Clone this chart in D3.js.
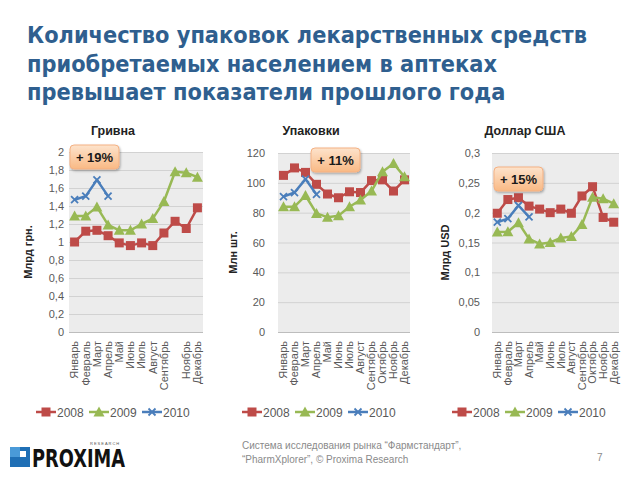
<!DOCTYPE html>
<html><head><meta charset="utf-8">
<script src="https://cdn.jsdelivr.net/npm/d3@7"></script>
<style>body{margin:0;background:#fff}svg{display:block}</style>
</head><body><svg id="c" width="640" height="480"></svg>
<script>
const titleLines = ["Количество упаковок лекарственных средств","приобретаемых населением в аптеках","превышает показатели прошлого года"];
const months = ["Январь","Февраль","Март","Апрель","Май","Июнь","Июль","Август","Сентябрь","Октябрь","Ноябрь","Декабрь"];
const seriesNames = ["2008","2009","2010"];
// Гривна (млрд грн.)
const uah2008 = [1.00,1.12,1.13,1.07,0.99,0.96,0.99,0.96,1.10,1.23,1.15,1.38];
const uah2009 = [1.29,1.29,1.39,1.19,1.13,1.13,1.20,1.26,1.45,1.78,1.77,1.72];
const uah2010 = [1.47,1.51,1.69,1.51];
const uahTicks = [0,0.2,0.4,0.6,0.8,1,1.2,1.4,1.6,1.8,2];
// Упаковки (млн шт.)
const pack2008 = [105,110,107,99,92.5,90,94,93.5,101.5,102,94.5,102];
const pack2009 = [84,84,91.5,79.5,77,78,84,88.5,94.5,107.5,113,104];
const pack2010 = [90.8,93.5,102.5,92.2];
const packTicks = [0,20,40,60,80,100,120];
// Доллар США (млрд USD)
const usd2008 = [0.199,0.222,0.225,0.211,0.206,0.200,0.206,0.199,0.228,0.2435,0.192,0.184];
const usd2009 = [0.1675,0.168,0.183,0.156,0.1475,0.150,0.1575,0.160,0.180,0.226,0.2235,0.215];
const usd2010 = [0.184,0.190,0.212,0.193];
const usdTicks = [0,0.05,0.1,0.15,0.2,0.25,0.3];

const colors = ["#be4b48","#98b954","#4a7ebb"];
const svg = d3.select("#c");
const defs = svg.append("defs");
const g1 = defs.append("linearGradient").attr("id","callout").attr("x1",0).attr("y1",0).attr("x2",0).attr("y2",1);
g1.append("stop").attr("offset","0%").attr("stop-color","#fde3cc");
g1.append("stop").attr("offset","100%").attr("stop-color","#f9b984");
const sh = defs.append("filter").attr("id","sh").attr("x","-20%").attr("y","-20%").attr("width","150%").attr("height","160%");
sh.append("feDropShadow").attr("dx",1).attr("dy",1.5).attr("stdDeviation",1.2).attr("flood-color","#000").attr("flood-opacity",0.3);

// Title
const tfont = "'DejaVu Sans Condensed','DejaVu Sans',sans-serif";
const tg = svg.append("g");
titleLines.forEach((t,i)=>{
  tg.append("text").attr("x",27).attr("y",43+i*28.5).text(t)
    .attr("font-family",tfont).attr("font-weight","bold").attr("font-size",22.5)
    .attr("fill","#2f5f8f");
});
{
  const nodes = tg.selectAll("text").nodes();
  const k = 560 / nodes[0].getComputedTextLength();
  nodes.forEach(n=>{
    const w = n.getComputedTextLength();
    d3.select(n).attr("textLength",w*k).attr("lengthAdjust","spacingAndGlyphs");
  });
}

const afont = "'Liberation Sans','Open Sans',sans-serif";
const fmt = d => String(d).replace(".",",");

function drawChart(cfg){
  const {left,right,top,bottom,ticks,data,title,titleX,ytitle,ytitleX,skip,callout,legendX,pad} = cfg;
  const g = svg.append("g");
  const x = d3.scaleBand().domain(months).range([left,right]);
  const y = d3.scaleLinear().domain([ticks[0],ticks[ticks.length-1]]).range([bottom,top]);
  g.append("rect").attr("x",left).attr("y",top).attr("width",right-left).attr("height",bottom-top).attr("fill","#ececec");
  g.append("g").attr("transform",`translate(${left},0)`)
    .call(d3.axisLeft(y).tickValues(ticks).tickSize(-(right-left)).tickFormat(fmt).tickPadding(pad))
    .call(a=>{a.select(".domain").remove();
      a.selectAll(".tick line").attr("stroke",(d,i)=>i===0?"#bdbdbd":"#d2d2d2").attr("stroke-width",1);
      a.selectAll("text").attr("font-family",afont).attr("font-size",11).attr("fill","#595959");});
  g.append("g").attr("transform",`translate(0,${bottom})`)
    .call(d3.axisBottom(x).tickSize(0).tickFormat(d=> (skip && skip.includes(d)) ? "" : d))
    .call(a=>{a.select(".domain").remove();
      a.selectAll("text").attr("font-family",afont).attr("font-size",11).attr("fill","#595959")
        .attr("transform","rotate(-90)").attr("text-anchor","end").attr("dy","0.35em").attr("x",-9).attr("y",0);});
  g.append("text").attr("x",titleX).attr("y",135).attr("text-anchor","middle").text(title)
    .attr("font-family",afont).attr("font-weight","bold").attr("font-size",12.5).attr("fill","#222");
  g.append("text").attr("transform",`translate(${ytitleX},${(top+bottom)/2+10}) rotate(-90)`).attr("text-anchor","middle")
    .text(ytitle).attr("font-family",afont).attr("font-weight","bold").attr("font-size",11).attr("fill","#222");
  const line = d3.line().x((d,i)=>x(months[i])+x.bandwidth()/2).y(d=>y(d));
  data.forEach((s,si)=>{
    g.append("path").datum(s).attr("d",line).attr("fill","none").attr("stroke",colors[si]).attr("stroke-width",2.5).attr("stroke-linejoin","round");
    s.forEach((v,i)=>drawMarker(g,si,x(months[i])+x.bandwidth()/2,y(v)));
  });
  const cg = g.append("g");
  cg.append("rect").attr("x",callout.x).attr("y",callout.y).attr("width",49).attr("height",24).attr("rx",4)
    .attr("fill","url(#callout)").attr("stroke","#f4b183").attr("stroke-width",1).attr("filter","url(#sh)");
  cg.append("text").attr("x",callout.x+24.5).attr("y",callout.y+16.5).attr("text-anchor","middle").text(callout.text)
    .attr("font-family",afont).attr("font-weight","bold").attr("font-size",13).attr("fill","#1a1a1a");
  let lx = legendX;
  seriesNames.forEach((n,si)=>{
    g.append("line").attr("x1",lx).attr("x2",lx+20).attr("y1",412).attr("y2",412).attr("stroke",colors[si]).attr("stroke-width",2.5);
    drawMarker(g,si,lx+10,412);
    g.append("text").attr("x",lx+21).attr("y",416.5).text(n).attr("font-family",afont).attr("font-size",12).attr("fill","#595959");
    lx += 53;
  });
}
function drawMarker(g,si,cx,cy){
  if(si===0){
    g.append("rect").attr("x",cx-4.5).attr("y",cy-4.5).attr("width",9).attr("height",9).attr("fill",colors[0]);
  } else if(si===1){
    g.append("path").attr("d",`M${cx},${cy-5.5}L${cx+5.5},${cy+4.5}L${cx-5.5},${cy+4.5}Z`).attr("fill",colors[1]);
  } else {
    g.append("path").attr("d",`M${cx-3.5},${cy-3.5}L${cx+3.5},${cy+3.5}M${cx-3.5},${cy+3.5}L${cx+3.5},${cy-3.5}`)
      .attr("stroke",colors[2]).attr("stroke-width",1.8);
  }
}

drawChart({left:69,right:203,top:152,bottom:332,ticks:uahTicks,data:[uah2008,uah2009,uah2010],
  title:"Гривна",titleX:113,ytitle:"Млрд грн.",ytitleX:32,skip:["Октябрь"],pad:5,
  callout:{x:70,y:145,text:"+ 19%"},legendX:36});
drawChart({left:278,right:410,top:153,bottom:332,ticks:packTicks,data:[pack2008,pack2009,pack2010],
  title:"Упаковки",titleX:311,ytitle:"Млн шт.",ytitleX:237,skip:null,pad:13,
  callout:{x:311,y:148,text:"+ 11%"},legendX:242});
drawChart({left:492,right:619,top:153,bottom:332,ticks:usdTicks,data:[usd2008,usd2009,usd2010],
  title:"Доллар США",titleX:525,ytitle:"Млрд USD",ytitleX:449,skip:null,pad:12,
  callout:{x:494,y:167,text:"+ 15%"},legendX:452});

// Footer
const ff = svg.append("g");
ff.append("rect").attr("x",10).attr("y",447).attr("width",20).attr("height",20).attr("fill","#1f6fb5");
ff.append("rect").attr("x",10).attr("y",447).attr("width",10).attr("height",10).attr("fill","#4a9ad8");
ff.append("rect").attr("x",20).attr("y",451).attr("width",6).attr("height",6).attr("fill","#fff");
ff.append("text").attr("x",32).attr("y",467).text("PROXIMA").attr("font-family","'DejaVu Sans Condensed','Liberation Sans Narrow',sans-serif")
  .attr("font-weight","bold").attr("font-size",24).attr("fill","#111").attr("textLength",93).attr("lengthAdjust","spacingAndGlyphs");
ff.append("text").attr("x",90).attr("y",445).text("RESEARCH").attr("font-family",afont).attr("font-size",4).attr("fill","#555").attr("letter-spacing",1);
ff.append("text").attr("x",242).attr("y",449).text("Система исследования рынка  “Фармстандарт”,")
  .attr("font-family",afont).attr("font-size",10).attr("fill","#8a8a8a");
ff.append("text").attr("x",242).attr("y",462.5).text("“PharmXplorer”, © Proxima Research")
  .attr("font-family",afont).attr("font-size",10).attr("fill","#8a8a8a");
ff.append("text").attr("x",597).attr("y",461).text("7").attr("font-family",afont).attr("font-size",10).attr("fill","#8a8a8a");
</script></body></html>
